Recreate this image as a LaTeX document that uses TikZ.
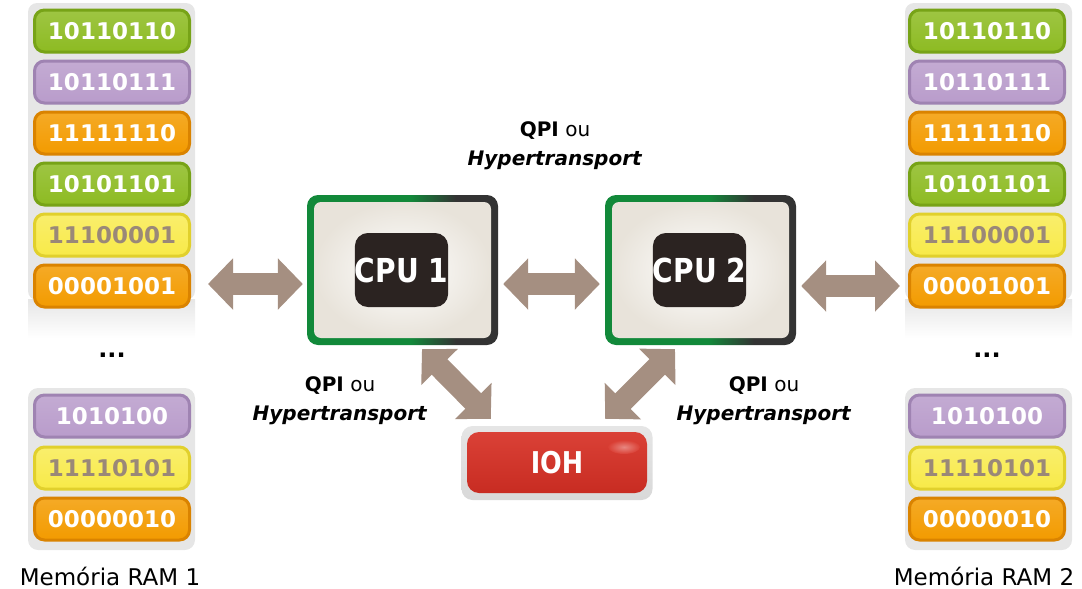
\documentclass[tikz,border=0pt]{standalone}
\usepackage{fontspec}
\setmainfont{DejaVu Sans}
\newfontfamily\condfont[FakeStretch=0.85]{DejaVu Sans}
\usetikzlibrary{arrows.meta}

\definecolor{panelgray}{HTML}{E6E6E6}
\definecolor{cgreen}{HTML}{8DBB22}
\definecolor{cgreenD}{HTML}{77A317}
\definecolor{cpurple}{HTML}{B99CCB}
\definecolor{cpurpleD}{HTML}{9F83B2}
\definecolor{corange}{HTML}{F39B00}
\definecolor{corangeD}{HTML}{DA8300}
\definecolor{cyellow}{HTML}{F8EA48}
\definecolor{cyellowD}{HTML}{E1D02C}
\definecolor{ytext}{HTML}{9A8878}
\definecolor{busbrown}{HTML}{A58F81}
\definecolor{cpugreen}{HTML}{12893A}
\definecolor{cpudark}{HTML}{333333}
\definecolor{cpubeige}{HTML}{E8E3DA}
\definecolor{chipdark}{HTML}{2B2321}
\definecolor{iohred}{HTML}{D8372C}
\definecolor{iohredD}{HTML}{C82C22}

% green-to-dark frame of the processor boxes
\pgfdeclarehorizontalshading{cpuborder}{100bp}{%
  color(0bp)=(cpugreen); color(52bp)=(cpugreen);
  color(64bp)=(cpudark); color(100bp)=(cpudark)}

\tikzset{
  cell/.style={rounded corners=10pt, minimum width=155pt, minimum height=42pt,
    line width=3pt, inner sep=0pt, text=white,
    font=\fontsize{23}{23}\selectfont\bfseries},
  gcell/.style={cell, top color=cgreen!85!white, bottom color=cgreen, draw=cgreenD},
  pcell/.style={cell, top color=cpurple!85!white, bottom color=cpurple, draw=cpurpleD},
  ocell/.style={cell, top color=corange!85!white, bottom color=corange, draw=corangeD},
  ycell/.style={cell, top color=cyellow!80!white, bottom color=cyellow, draw=cyellowD, text=ytext},
  cpuframe/.style={rounded corners=11pt, minimum width=191pt, minimum height=150pt,
    inner sep=0pt, shading=cpuborder},
  cpuinner/.style={rounded corners=7pt, minimum width=177pt, minimum height=136pt,
    inner sep=0pt, inner color=white, outer color=cpubeige},
  chip/.style={rounded corners=13pt, minimum width=93pt, minimum height=74pt,
    inner sep=0pt, fill=chipdark, text=white,
    font=\fontsize{33}{33}\selectfont\condfont\bfseries},
  bus/.style={line width=22pt, draw=busbrown,
    {Triangle[length=25pt, width=50pt]}-{Triangle[length=25pt, width=50pt]}},
  lbl/.style={align=center, inner sep=0pt, font=\fontsize{20}{29}\selectfont},
  ramlbl/.style={inner sep=0pt, font=\fontsize{23}{23}\selectfont},
  dots/.style={inner sep=0pt, anchor=base, font=\fontsize{24}{24}\selectfont\bfseries},
}

\begin{document}
\begin{tikzpicture}[x=1pt, y=-1pt]
\useasboundingbox (0,0) rectangle (1082,589);

% memory panels
\foreach \px in {28, 905} {
  \fill[panelgray, rounded corners=9pt] (\px,3) rectangle (\px+167,300);
  \shade[top color=panelgray, bottom color=white] (\px,299) rectangle (\px+167,338);
  \fill[panelgray, rounded corners=10pt] (\px,388) rectangle (\px+167,550);
}

% memory 1
\node[gcell] (l1) at (112,31)  {10110110};
\node[pcell] (l2) at (112,82)  {10110111};
\node[ocell] (l3) at (112,133) {11111110};
\node[gcell] (l4) at (112,184) {10101101};
\node[ycell] (l5) at (112,235) {11100001};
\node[ocell] (l6) at (112,286) {00001001};
\node[dots]  (ldots) at (112,357) {...};
\node[pcell] (l7) at (112,416) {1010100};
\node[ycell] (l8) at (112,468) {11110101};
\node[ocell] (l9) at (112,519) {00000010};
\node[ramlbl] (meml) at (110,576) {Memória RAM 1};

% memory 2
\node[gcell] (r1) at (987,31)  {10110110};
\node[pcell] (r2) at (987,82)  {10110111};
\node[ocell] (r3) at (987,133) {11111110};
\node[gcell] (r4) at (987,184) {10101101};
\node[ycell] (r5) at (987,235) {11100001};
\node[ocell] (r6) at (987,286) {00001001};
\node[dots]  (rdots) at (987,357) {...};
\node[pcell] (r7) at (987,416) {1010100};
\node[ycell] (r8) at (987,468) {11110101};
\node[ocell] (r9) at (987,519) {00000010};
\node[ramlbl] (memr) at (984,576) {Memória RAM 2};

% processors
\node[cpuframe] (cpu1) at (402.5,270) {};
\node[cpuinner] (cpu1in) at (cpu1.center) {};
\node[chip] (chip1) at (401.5,270) {CPU 1};

\node[cpuframe] (cpu2) at (700.5,270) {};
\node[cpuinner] (cpu2in) at (cpu2.center) {};
\node[chip] (chip2) at (699.5,270) {CPU 2};

% I/O hub
\node[rounded corners=11pt, minimum width=191pt, minimum height=74pt, inner sep=0pt,
  top color=white!90!black, bottom color=white!85!black] (iohbg) at (557,463) {};
\node[rounded corners=12pt, minimum width=180pt, minimum height=61pt, inner sep=0pt,
  top color=iohred!95!white, bottom color=iohredD, text=white,
  font=\fontsize{30}{30}\selectfont\condfont\bfseries] (ioh) at (557,462.5) {IOH};
\shade[inner color=iohred!60!white, outer color=iohred!96!white] (624,447) ellipse (16 and 7);

% interconnect links
\draw[bus] ([xshift=17pt,yshift=2pt]l6.east) -- ([xshift=-4pt,yshift=2pt]cpu1.west |- l6.east);
\draw[bus] ([xshift=5pt,yshift=2pt]cpu1.east |- l6.east) -- ([xshift=-5pt,yshift=2pt]cpu2.west |- l6.east);
\draw[bus] ([xshift=5pt]cpu2.east |- r6.east) -- ([xshift=-8pt]r6.west);
\draw[bus] ([xshift=19.5pt,yshift=-4pt]cpu1.south) -- ([xshift=24pt,yshift=13pt]ioh.north west);
\draw[bus] ([xshift=-25.5pt,yshift=-4pt]cpu2.south) -- ([xshift=-42pt,yshift=13pt]ioh.north east);

% link labels
\node[lbl] (qpitop) at (555,146) {\textbf{QPI} ou\\\textbf{\itshape Hypertransport}};
\node[lbl] (qpil) at (340,401) {\textbf{QPI} ou\\\textbf{\itshape Hypertransport}};
\node[lbl] (qpir) at (764,401) {\textbf{QPI} ou\\\textbf{\itshape Hypertransport}};
\end{tikzpicture}
\end{document}
